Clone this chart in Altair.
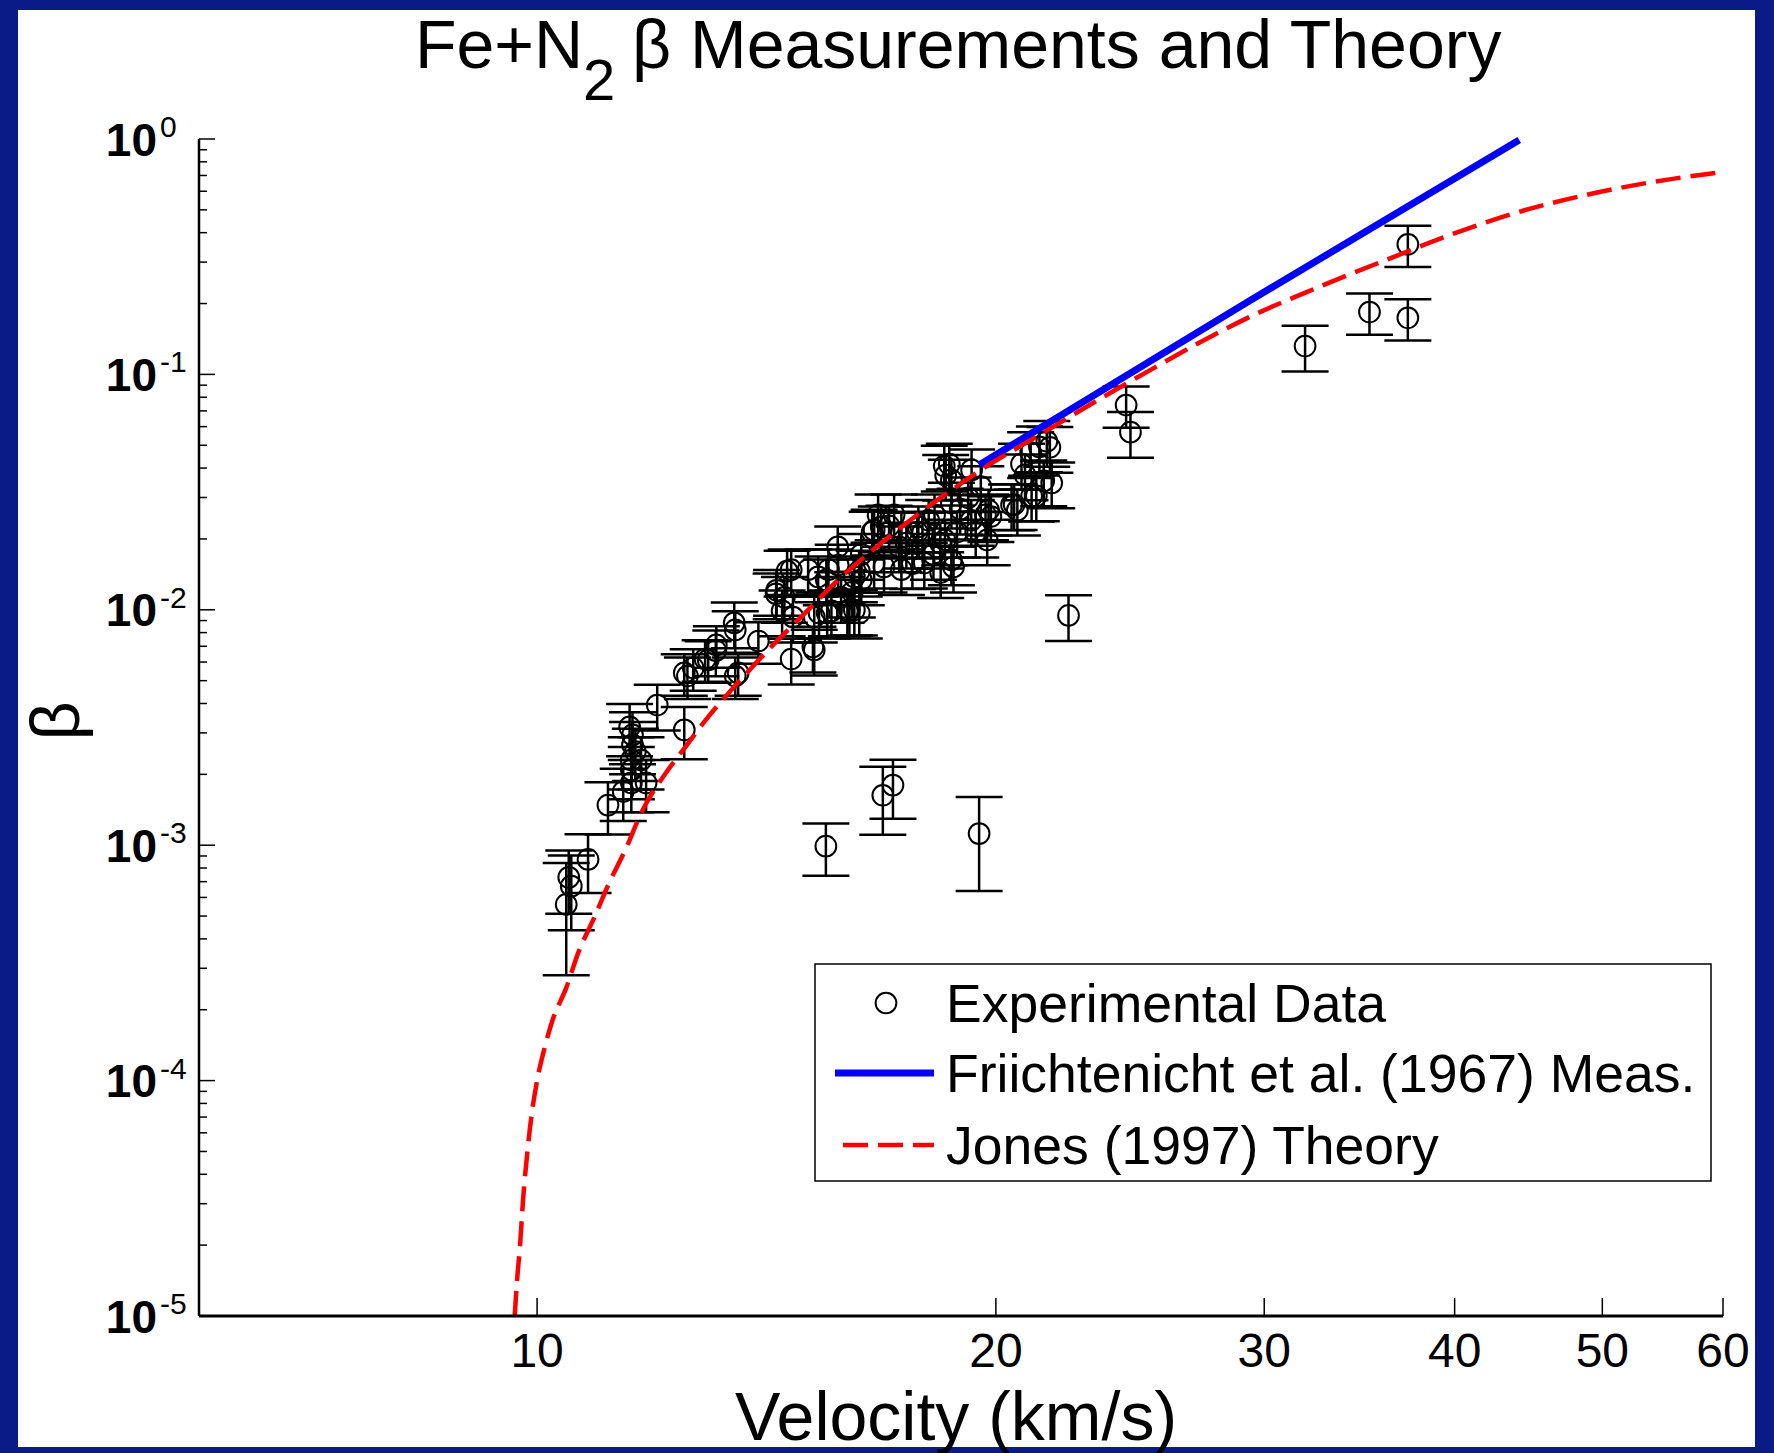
import altair as alt
import pandas as pd

# ---------------- data ----------------
vel = [10.45, 10.49, 10.53, 10.80, 11.13, 11.39, 11.53, 11.53, 11.53, 11.55,
       11.55, 11.50, 11.60, 11.70, 11.79, 11.99, 12.49, 12.49, 12.55, 12.66,
       12.89, 12.95, 13.11, 13.49, 13.49, 13.55, 13.97, 14.35, 14.48, 14.53,
       14.59, 14.68, 14.68, 14.72, 15.06, 15.17, 15.20, 15.20, 15.29, 15.50,
       15.53, 15.60, 15.76, 15.83, 15.98, 16.10, 16.15, 16.15, 16.27, 16.27,
       16.32, 16.32, 16.59, 16.64, 16.64, 16.74, 16.82, 17.02, 17.15, 17.34,
       17.34, 17.47, 17.63, 17.76, 17.79, 17.95, 18.07, 18.20, 18.23, 18.39,
       18.50, 18.54, 18.64, 18.70, 18.70, 18.70, 18.86, 18.95, 19.18, 19.27,
       19.28, 19.40, 19.55, 19.69, 19.78, 20.48, 20.56, 20.79, 20.90, 21.08,
       21.11, 21.26, 21.36, 21.50, 21.60, 21.70, 21.76,
       20.66, 19.85, 19.74, 18.52, 17.90, 17.28, 18.76, 18.40, 16.89, 15.75,
       15.48, 14.36, 15.31, 16.03, 13.10, 13.47,
       15.47, 16.86, 17.12, 19.50, 22.32, 24.35, 24.51, 31.91, 35.17, 37.27, 37.27]
beta = [5.6e-4, 7.3e-4, 6.7e-4, 8.7e-4, 1.48e-3, 1.69e-3, 1.84e-3, 2.09e-3, 2.30e-3, 2.67e-3,
        2.94e-3, 3.18e-3, 2.50e-3, 2.30e-3, 1.84e-3, 3.94e-3, 3.09e-3, 5.39e-3, 5.23e-3, 5.66e-3,
        6.18e-3, 6.12e-3, 7.09e-3, 8.21e-3, 5.23e-3, 5.39e-3, 7.37e-3, 1.17e-2, 9.89e-3, 1.13e-2,
        1.46e-2, 6.18e-3, 1.48e-2, 9.32e-3, 1.48e-2, 6.95e-3, 6.75e-3, 9.32e-3, 1.38e-2, 9.69e-3,
        1.48e-2, 9.89e-3, 1.55e-2, 1.13e-2, 9.89e-3, 1.19e-2, 1.38e-2, 9.98e-3, 1.46e-2, 9.69e-3,
        1.72e-2, 1.34e-2, 2.14e-2, 2.18e-2, 1.58e-2, 2.53e-2, 2.25e-2, 2.27e-2, 2.53e-2, 2.12e-2,
        1.48e-2, 1.92e-2, 1.57e-2, 2.14e-2, 2.25e-2, 1.58e-2, 2.40e-2, 1.72e-2, 2.53e-2, 1.92e-2,
        4.08e-2, 3.73e-2, 4.16e-2, 1.63e-2, 3.56e-2, 2.84e-2, 2.14e-2, 2.68e-2, 2.99e-2, 2.40e-2,
        3.93e-2, 2.14e-2, 3.34e-2, 2.53e-2, 2.65e-2, 2.79e-2, 2.80e-2, 4.16e-2, 3.74e-2, 4.65e-2,
        3.04e-2, 3.05e-2, 4.92e-2, 3.53e-2, 5.20e-2, 4.90e-2, 3.46e-2,
        2.65e-2, 2.49e-2, 1.98e-2, 1.98e-2, 2.12e-2, 1.85e-2, 1.52e-2, 1.44e-2, 1.52e-2, 1.85e-2,
        1.34e-2, 1.21e-2, 9.7e-3, 9.98e-3, 6.7e-3, 8.8e-3,
        9.9e-4, 1.63e-3, 1.80e-3, 1.12e-3, 9.46e-3, 7.41e-2, 5.68e-2, 0.132, 0.184, 0.174, 0.357]
rel_err = [0.50, 0.30, 0.35, 0.28, 0.25, 0.25, 0.25, 0.25, 0.25, 0.25,
           0.25, 0.25, 0.25, 0.25, 0.25, 0.22, 0.25, 0.20, 0.20, 0.20,
           0.20, 0.20, 0.20, 0.20, 0.20, 0.20, 0.20, 0.22, 0.22, 0.22,
           0.22, 0.22, 0.22, 0.22, 0.22, 0.22, 0.22, 0.22, 0.22, 0.22,
           0.22, 0.22, 0.22, 0.22, 0.22, 0.22, 0.22, 0.22, 0.22, 0.22,
           0.22, 0.22, 0.22, 0.22, 0.22, 0.22, 0.22, 0.22, 0.22, 0.22,
           0.22, 0.22, 0.22, 0.22, 0.22, 0.22, 0.22, 0.22, 0.22, 0.22,
           0.22, 0.22, 0.22, 0.22, 0.22, 0.22, 0.22, 0.22, 0.22, 0.22,
           0.22, 0.22, 0.22, 0.22, 0.22, 0.22, 0.22, 0.22, 0.22, 0.22,
           0.22, 0.22, 0.22, 0.22, 0.22, 0.22, 0.22,
           0.22, 0.22, 0.22, 0.22, 0.22, 0.22, 0.22, 0.22, 0.22, 0.22,
           0.22, 0.22, 0.22, 0.22, 0.22, 0.22,
           0.25, 0.32, 0.28, 0.43, 0.22, 0.20, 0.22, 0.22, 0.20, 0.20, 0.20]

fri_vel = [19.5, 29.4, 44.1]
fri_beta = [0.0412, 0.207, 0.99]

jones_vel = [9.667, 9.702, 9.746, 9.79, 9.857, 9.917, 10.0, 10.106, 10.237, 10.448,
             10.639, 10.899, 11.15, 11.441, 11.703, 12.15, 12.51, 12.95, 13.41, 14.20,
             15.04, 15.76, 16.42, 16.90, 17.90, 18.76, 19.51, 21.30, 23.46, 25.30,
             27.29, 29.43, 32.57, 36.05, 39.89, 44.08, 48.76, 53.96, 60.0]
jones_beta = [1.0e-5, 1.42e-5, 2.0e-5, 3.11e-5, 5.07e-5, 7.14e-5, 1.0e-4, 1.35e-4, 1.81e-4, 2.47e-4,
              3.48e-4, 4.91e-4, 6.91e-4, 9.73e-4, 1.37e-3, 2.03e-3, 2.61e-3, 3.51e-3, 4.56e-3, 6.81e-3,
              9.89e-3, 1.34e-2, 1.69e-2, 1.97e-2, 2.63e-2, 3.27e-2, 3.89e-2, 5.47e-2, 7.94e-2, 0.105,
              0.138, 0.177, 0.235, 0.306, 0.395, 0.490, 0.578, 0.657, 0.724]

y_major = [1e-5, 1e-4, 1e-3, 1e-2, 1e-1, 1.0]
y_exp = ["-5", "-4", "-3", "-2", "-1", "0"]
y_minor = [m * 10.0 ** k for k in range(-5, 0) for m in range(2, 10)]
x_ticks = [10, 20, 30, 40, 50, 60]
x_tick_labels = ["10", "20", "30", "40", "50", "60"]

title_a = "Fe+N"
title_sub = "2"
title_b = "\u03b2 Measurements and Theory"
x_title = "Velocity (km/s)"
y_title = "\u03b2"
legend_labels = ["Experimental Data", "Friichtenicht et al. (1967) Meas.", "Jones (1997) Theory"]

# ---------------- chart ----------------
W, H = 1524, 1177
FONT = "Liberation Sans"
BLUE = "#0000ff"
RED = "#ff0000"

xs = alt.Scale(type="log", domain=[6, 60], nice=False)
ys = alt.Scale(type="log", domain=[1e-5, 1], nice=False)

pts = pd.DataFrame({"v": vel, "b": beta, "e": rel_err})
pts["lo"] = pts["b"] * (1 - pts["e"])
pts["hi"] = pts["b"] * (1 + pts["e"])

one = pd.DataFrame({"k": [0]})
Xv = alt.X("v:Q", scale=xs, axis=None)

bg = alt.Chart(one).mark_rect(color="white").encode(
    x=alt.value(-181), x2=alt.value(1556), y=alt.value(-129), y2=alt.value(1308))

ebar = alt.Chart(pts).mark_rule(color="black", strokeWidth=2.5).encode(
    x=Xv, y=alt.Y("lo:Q", scale=ys, axis=None), y2="hi:Q")
cap_lo = alt.Chart(pts).mark_tick(color="black", orient="horizontal", size=47, thickness=2.5,
                                  opacity=1).encode(
    x=Xv, y=alt.Y("lo:Q", scale=ys, axis=None))
cap_hi = alt.Chart(pts).mark_tick(color="black", orient="horizontal", size=47, thickness=2.5,
                                  opacity=1).encode(
    x=Xv, y=alt.Y("hi:Q", scale=ys, axis=None))
circ = alt.Chart(pts).mark_point(shape="circle", filled=False, size=430, color="black",
                                  strokeWidth=2, opacity=1).encode(
    x=Xv, y=alt.Y("b:Q", scale=ys, axis=None))

fri = alt.Chart(pd.DataFrame({"v": fri_vel, "b": fri_beta})).mark_line(
    color=BLUE, strokeWidth=7).encode(x=Xv, y=alt.Y("b:Q", scale=ys, axis=None))
jones = alt.Chart(pd.DataFrame({"v": jones_vel, "b": jones_beta})).mark_line(
    color=RED, strokeWidth=4.5, strokeDash=[25, 10], interpolate="monotone").encode(
    x=Xv, y=alt.Y("b:Q", scale=ys, axis=None))

# axes
yline = alt.Chart(one).mark_rule(color="black", strokeWidth=2.5).encode(
    x=alt.value(0), y=alt.value(0), y2=alt.value(H))
xline = alt.Chart(one).mark_rule(color="black", strokeWidth=3).encode(
    x=alt.value(0), x2=alt.value(W), y=alt.value(H))

ymaj_df = pd.DataFrame({"t": y_major, "e": y_exp})
ymaj = alt.Chart(ymaj_df).mark_rule(color="black", strokeWidth=1.5).encode(
    y=alt.Y("t:Q", scale=ys, axis=None), x=alt.value(0), x2=alt.value(16))
ymin = alt.Chart(pd.DataFrame({"t": y_minor})).mark_rule(color="black", strokeWidth=1.5).encode(
    y=alt.Y("t:Q", scale=ys, axis=None), x=alt.value(0), x2=alt.value(8))
ylab10 = alt.Chart(ymaj_df).mark_text(text="10", font=FONT, fontSize=46, fontWeight="bold",
                                      align="right", baseline="alphabetic", dy=16.5,
                                      color="black").encode(
    y=alt.Y("t:Q", scale=ys, axis=None), x=alt.value(-42))
ylabexp = alt.Chart(ymaj_df).mark_text(font=FONT, fontSize=30, align="left",
                                       baseline="alphabetic", dy=-2, color="black").encode(
    y=alt.Y("t:Q", scale=ys, axis=None), x=alt.value(-39), text="e:N")

xt_df = pd.DataFrame({"t": x_ticks, "l": x_tick_labels})
xtick = alt.Chart(xt_df).mark_rule(color="black", strokeWidth=1.5).encode(
    x=alt.X("t:Q", scale=xs, axis=None), y=alt.value(H - 18), y2=alt.value(H))
xlab = alt.Chart(xt_df).mark_text(font=FONT, fontSize=48, align="center",
                                  baseline="alphabetic", color="black").encode(
    x=alt.X("t:Q", scale=xs, axis=None), y=alt.value(H + 51), text="l:N")

# titles
t1 = alt.Chart(one).mark_text(text=title_a, font=FONT, fontSize=68, align="left",
                              baseline="alphabetic", color="black").encode(
    x=alt.value(216), y=alt.value(-71))
t2 = alt.Chart(one).mark_text(text=title_sub, font=FONT, fontSize=58, align="left",
                              baseline="alphabetic", color="black").encode(
    x=alt.value(384), y=alt.value(-39))
t3 = alt.Chart(one).mark_text(text=title_b, font=FONT, fontSize=68, align="left",
                              baseline="alphabetic", color="black").encode(
    x=alt.value(433), y=alt.value(-71))
xt_title = alt.Chart(one).mark_text(text=x_title, font=FONT, fontSize=68, align="center",
                                    baseline="alphabetic", color="black").encode(
    x=alt.value(757), y=alt.value(1301))
yt_title = alt.Chart(one).mark_text(text=y_title, font=FONT, fontSize=68, align="center",
                                    baseline="alphabetic", angle=270, color="black").encode(
    x=alt.value(-120), y=alt.value(582))

# legend
leg_box = alt.Chart(one).mark_rect(fill="white", stroke="black", strokeWidth=1.5).encode(
    x=alt.value(616), x2=alt.value(1512), y=alt.value(825), y2=alt.value(1042))
leg_circ = alt.Chart(one).mark_point(shape="circle", filled=False, size=430, color="black",
                                     strokeWidth=2, opacity=1).encode(
    x=alt.value(687), y=alt.value(864))
leg_blue = alt.Chart(one).mark_rule(color=BLUE, strokeWidth=7).encode(
    x=alt.value(636), x2=alt.value(735), y=alt.value(934))
leg_red = alt.Chart(one).mark_rule(color=RED, strokeWidth=4.5, strokeDash=[25, 10]).encode(
    x=alt.value(644), x2=alt.value(735), y=alt.value(1006))
leg_t1 = alt.Chart(one).mark_text(text=legend_labels[0], font=FONT, fontSize=53.5, align="left",
                                  baseline="alphabetic", color="black").encode(
    x=alt.value(747), y=alt.value(883))
leg_t2 = alt.Chart(one).mark_text(text=legend_labels[1], font=FONT, fontSize=53.5, align="left",
                                  baseline="alphabetic", color="black").encode(
    x=alt.value(747), y=alt.value(953))
leg_t3 = alt.Chart(one).mark_text(text=legend_labels[2], font=FONT, fontSize=53.5, align="left",
                                  baseline="alphabetic", color="black").encode(
    x=alt.value(747), y=alt.value(1025))

chart = alt.layer(
    bg, ebar, cap_lo, cap_hi, circ, fri, jones,
    yline, xline, ymaj, ymin, ylab10, ylabexp, xtick, xlab,
    t1, t2, t3, xt_title, yt_title,
    leg_box, leg_circ, leg_blue, leg_red, leg_t1, leg_t2, leg_t3,
).properties(
    width=W, height=H,
    autosize=alt.AutoSizeParams(type="none"),
    padding={"left": 199, "top": 139, "right": 51, "bottom": 137},
    background="#0A1A87",
).configure_view(stroke=None)

chart.save("out.html", embed_options={"renderer": "svg", "actions": False})
